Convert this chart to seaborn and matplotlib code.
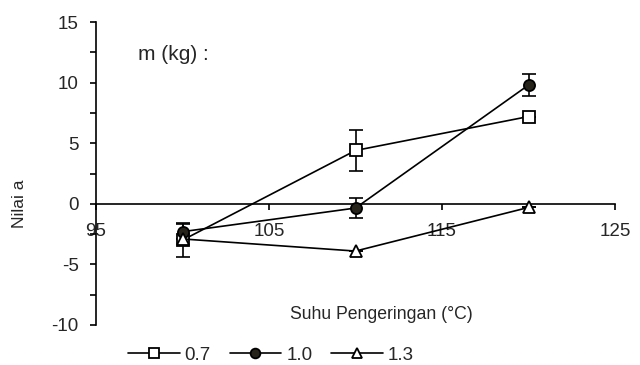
import matplotlib
matplotlib.use("Agg")
import matplotlib.pyplot as plt
import seaborn as sns
import pandas as pd
import numpy as np
from matplotlib.lines import Line2D

temps = [100, 110, 120]
masses = ["0.7", "1.0", "1.3"]
a_07 = [-3.0, 4.4, 7.2]
err_07 = [1.4, 1.7, 0.0]
a_10 = [-2.3, -0.35, 9.8]
err_10 = [0.6, 0.8, 0.9]
a_13 = [-2.9, -3.9, -0.3]
err_13 = [0.0, 0.0, 0.0]
x_ticks = [95, 105, 115, 125]
y_ticks = [-10, -5, 0, 5, 10, 15]

sns.set_theme(style="white")
plt.rcParams['font.family'] = ['Liberation Sans', 'DejaVu Sans']
plt.rcParams['axes.unicode_minus'] = False

df = pd.DataFrame({
    "Suhu": temps * 3,
    "a": a_07 + a_10 + a_13,
    "err": err_07 + err_10 + err_13,
    "m": sum([[m] * len(temps) for m in masses], []),
})

fig = plt.figure(figsize=(6.4, 3.65), dpi=100)
ax = fig.add_axes([0.15, 0.1096, 0.811, 0.8301])

styles = {
    "0.7": dict(marker="s", mfc="white"),
    "1.0": dict(marker="o", mfc="#26241a"),
    "1.3": dict(marker="^", mfc="white"),
}
handles = []
for m in masses:
    sub = df[df["m"] == m]
    sns.lineplot(data=sub, x="Suhu", y="a", ax=ax, color="black", lw=1.2,
                 marker=styles[m]["marker"], markersize=8,
                 markerfacecolor=styles[m]["mfc"], markeredgecolor="black",
                 markeredgewidth=1.3, legend=False, zorder=3)
    ax.errorbar(sub["Suhu"], sub["a"], yerr=sub["err"], fmt="none",
                ecolor="black", elinewidth=1.2, capsize=5, capthick=1.2, zorder=2)
    handles.append(Line2D([0], [0], color="black", lw=1.2, marker=styles[m]["marker"],
                          markersize=7, markerfacecolor=styles[m]["mfc"],
                          markeredgecolor="black", markeredgewidth=1.3, label=m))

ax.set_xlim(95, 125)
ax.set_ylim(-10, 15)
ax.set_xticks(x_ticks)
ax.set_yticks(y_ticks)
ax.set_yticks(np.arange(-7.5, 15, 5), minor=True)

for s in ["top", "right"]:
    ax.spines[s].set_visible(False)
ax.spines["bottom"].set_position(("data", 0))
ax.spines["left"].set_color("black")
ax.spines["bottom"].set_color("black")
ax.spines["left"].set_linewidth(1.2)
ax.spines["bottom"].set_linewidth(1.2)

ax.tick_params(axis="x", which="major", direction="out", length=4.5, width=1.2,
               color="black", labelsize=13.5, pad=9, bottom=True)
ax.tick_params(axis="y", which="both", direction="out", length=4.5, width=1.2,
               color="black", labelsize=13.5, pad=8, left=True)

ax.set_xlabel("Suhu Pengeringan (\u00b0C)", fontsize=12.7)
ax.xaxis.set_label_coords(0.55, 0.033)
ax.xaxis.label.set_va("center")
ax.set_ylabel("Nilai a", fontsize=12.5)
ax.yaxis.set_label_coords(-0.147, 0.40)
ax.yaxis.label.set_va("center")

ax.text(97.4, 12.3, "m (kg) :", fontsize=15, ha="left", va="center")

fig.legend(handles=handles, loc="center left", bbox_to_anchor=(0.2, 0.027), ncol=3,
           frameon=False, fontsize=13.5, handlelength=2.75, handletextpad=0.27,
           columnspacing=1.0, borderpad=0, borderaxespad=0)

fig.savefig("out.png", dpi=100)
